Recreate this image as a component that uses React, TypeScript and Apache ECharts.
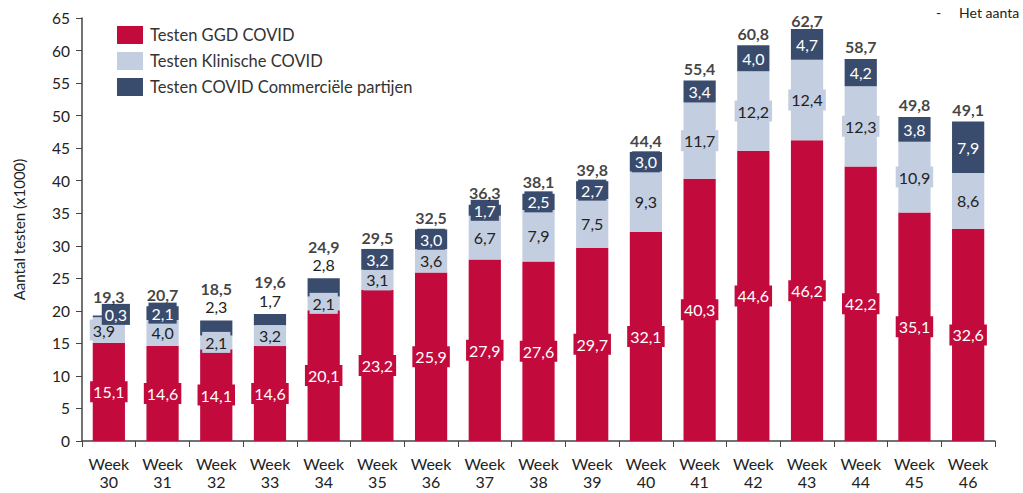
import React, { useEffect, useRef } from "react";
import * as echarts from "echarts";

const weeks = ["30", "31", "32", "33", "34", "35", "36", "37", "38", "39", "40", "41", "42", "43", "44", "45", "46"];
const ggd = [15.1, 14.6, 14.1, 14.6, 20.1, 23.2, 25.9, 27.9, 27.6, 29.7, 32.1, 40.3, 44.6, 46.2, 42.2, 35.1, 32.6];
const klinisch = [3.9, 4.0, 2.1, 3.2, 2.1, 3.1, 3.6, 6.7, 7.9, 7.5, 9.3, 11.7, 12.2, 12.4, 12.3, 10.9, 8.6];
const commercieel = [0.3, 2.1, 2.3, 1.7, 2.8, 3.2, 3.0, 1.7, 2.5, 2.7, 3.0, 3.4, 4.0, 4.7, 4.2, 3.8, 7.9];
const totals = [19.3, 20.7, 18.5, 19.6, 24.9, 29.5, 32.5, 36.3, 38.1, 39.8, 44.4, 55.4, 60.8, 62.7, 58.7, 49.8, 49.1];
const yTicks = { min: 0, max: 65, interval: 5 };
const outsideLabelWeeks = ["32", "33", "34"];

const RED = "#C20A3C";
const LIGHT = "#C3CEE1";
const NAVY = "#3A4C6E";
const FONT = "Lato, 'Open Sans', sans-serif";

const fmt = (v: number) => v.toFixed(1).replace(".", ",");

export default function App() {
  const ref = useRef<HTMLDivElement>(null);
  useEffect(() => {
    if (!ref.current) return;
    const chart = echarts.init(ref.current, undefined, { renderer: "svg" });
    const categories = weeks.map((w) => "Week\n" + w);
    const boxLabel = (bg: string, color: string) => ({
      show: true,
      position: "inside",
      formatter: (p: any) => fmt(p.value),
      backgroundColor: bg,
      color,
      fontSize: 16,
      fontFamily: FONT,
      padding: [3, 3, 2, 3],
    });
    chart.setOption({
      animation: false,
      textStyle: { fontFamily: FONT },
      grid: { left: 82, right: 28, top: 18, bottom: 52, containLabel: false },
      legend: {
        data: ["Testen GGD COVID", "Testen Klinische COVID", "Testen COVID Commerciële partijen"],
        orient: "vertical",
        left: 112,
        top: 21,
        itemWidth: 26,
        itemHeight: 18,
        itemGap: 8,
        icon: "rect",
        textStyle: { fontSize: 16.5, color: "#333", fontFamily: FONT, padding: [0, 0, 0, 2] },
      },
      xAxis: {
        type: "category",
        data: categories,
        axisLine: { lineStyle: { color: "#444", width: 1.5 } },
        axisTick: { show: true, alignWithLabel: false, length: 6, lineStyle: { color: "#444" } },
        axisLabel: { color: "#222", fontSize: 16, lineHeight: 18, margin: 13, interval: 0, fontFamily: FONT },
      },
      yAxis: {
        type: "value",
        min: yTicks.min,
        max: yTicks.max,
        interval: yTicks.interval,
        name: "Aantal testen (x1000)",
        nameLocation: "middle",
        nameGap: 56,
        nameTextStyle: { fontSize: 15, color: "#222", fontFamily: FONT },
        axisLine: { show: true, lineStyle: { color: "#444", width: 1.5 } },
        axisTick: { show: true, length: 6, lineStyle: { color: "#444" } },
        axisLabel: { color: "#222", fontSize: 15.5, margin: 12, fontFamily: FONT },
        splitLine: { show: false },
      },
      series: [
        {
          name: "Testen GGD COVID",
          type: "bar",
          stack: "t",
          barWidth: "60%",
          itemStyle: { color: RED },
          label: boxLabel(RED, "#fff"),
          data: ggd,
        },
        {
          name: "Testen Klinische COVID",
          type: "bar",
          stack: "t",
          itemStyle: { color: LIGHT },
          label: boxLabel(LIGHT, "#222"),
          data: klinisch.map((v, i) => (i === 0 ? { value: v, label: { offset: [-5, 0] } } : v)),
        },
        {
          name: "Testen COVID Commerciële partijen",
          type: "bar",
          stack: "t",
          itemStyle: { color: NAVY },
          label: boxLabel(NAVY, "#fff"),
          data: commercieel.map((v, i) =>
            outsideLabelWeeks.includes(weeks[i])
              ? { value: v, label: { position: "top", distance: 4, backgroundColor: "transparent", color: "#222" } }
              : i === 0
              ? { value: v, label: { offset: [7, -2] } }
              : v
          ),
        },
        {
          name: "Totaal",
          type: "scatter",
          symbolSize: 0,
          silent: true,
          label: {
            show: true,
            position: "top",
            distance: 4,
            formatter: (p: any) => fmt(p.value),
            fontWeight: "bold",
            fontSize: 16,
            color: "#111",
            fontFamily: FONT,
          },
          data: totals.map((v, i) =>
            outsideLabelWeeks.includes(weeks[i])
              ? { value: v, label: { distance: 24 } }
              : i === 0
              ? { value: v, label: { distance: 11 } }
              : v
          ),
        },
      ],
      graphic: [
        {
          type: "text",
          left: 936,
          top: 5,
          style: { text: "-     Het aanta", fontSize: 14, fill: "#222", fontFamily: FONT },
        },
      ],
    });
    return () => chart.dispose();
  }, []);
  return <div ref={ref} style={{ position: "fixed", left: 0, top: 0, width: 1023, height: 493, background: "#fff" }} />;
}
